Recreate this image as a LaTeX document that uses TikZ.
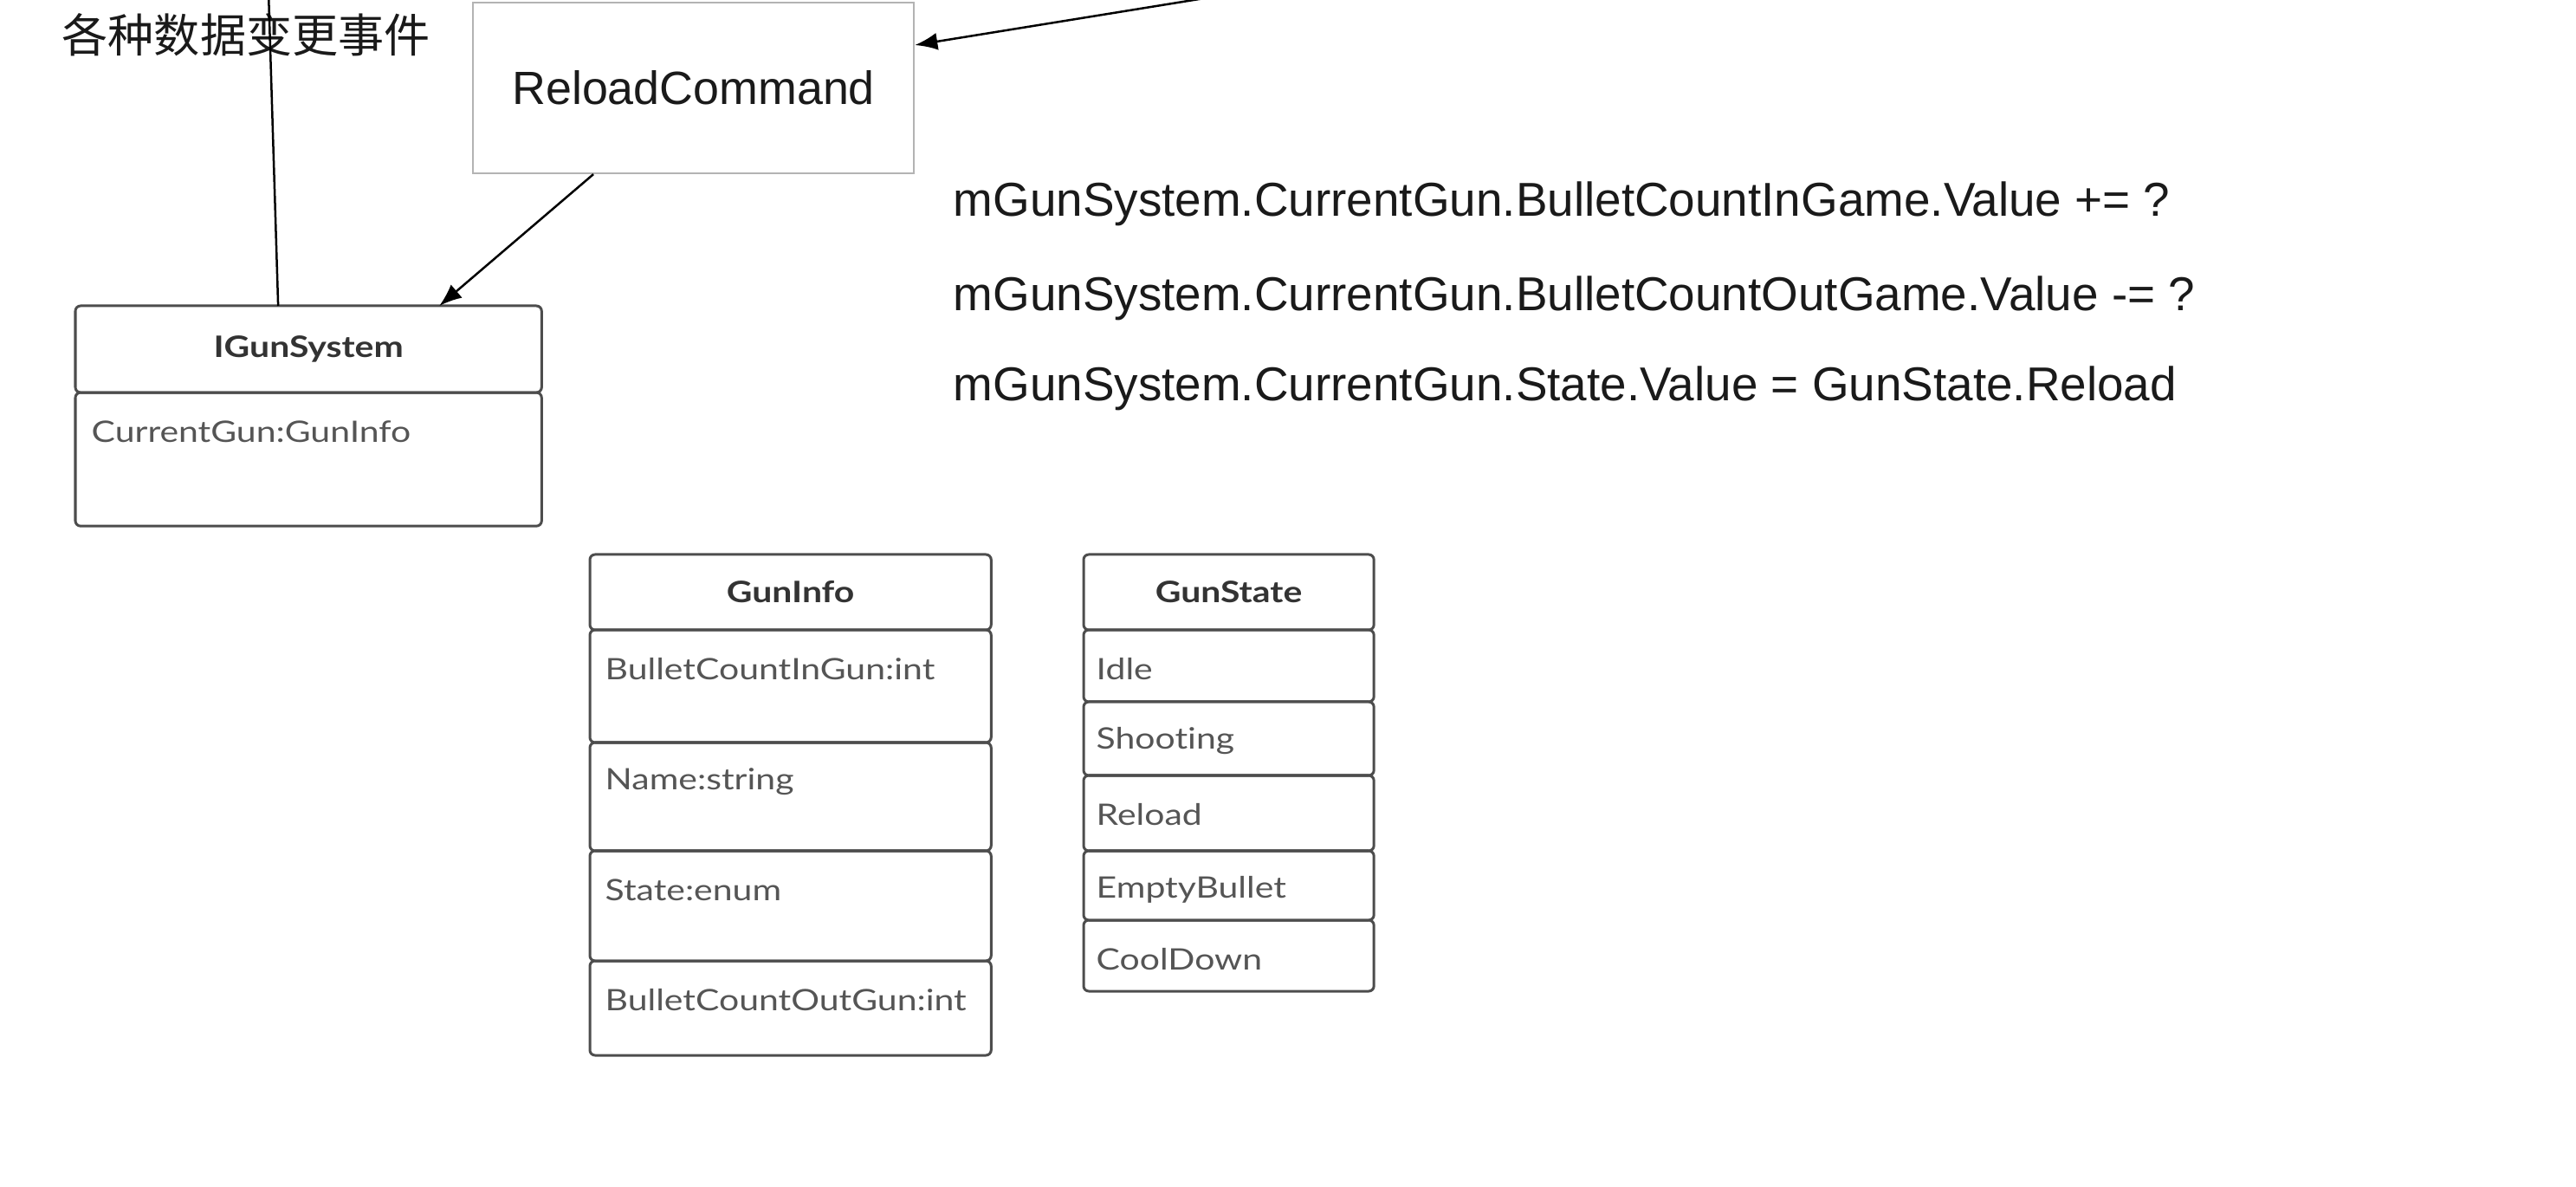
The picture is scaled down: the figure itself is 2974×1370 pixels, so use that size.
\documentclass[tikz,border=0pt]{standalone}
\usepackage{fontspec}
\setmainfont{Liberation Sans}
\newfontfamily\umlfont{Lato}[FakeStretch = 1.2, Ligatures = NoCommon]
\newfontfamily\cjkfont{Noto Sans CJK SC}
\usetikzlibrary{positioning,arrows.meta}
\definecolor{uml_frame}{HTML}{4D4D4D}
\definecolor{uml_text}{HTML}{555555}
\definecolor{uml_title}{HTML}{333333}
\definecolor{cmd_frame}{HTML}{B3B3B3}
\definecolor{code_text}{HTML}{1A1A1A}

\begin{document}
\begin{tikzpicture}[x={(.01cm,0)}, y={(0,-.01cm)}]
    \tikzstyle{compart} = [draw = uml_frame, line width = .03cm, rounded corners = .06cm, inner sep = 0, outer sep = 0, anchor = north west];
    \tikzstyle{attr} = [anchor = west, inner sep = 0, text = uml_text, font = \umlfont\fontsize{9.7}{12}\selectfont];
    \tikzstyle{title} = [text = uml_title, font = \umlfont\bfseries\fontsize{9.7}{12}\selectfont];
    \tikzstyle{code} = [anchor = west, inner sep = 0, text = code_text, font = \fontsize{15.6}{18}\selectfont];
    \tikzstyle{link} = [line width = .025cm, -{Latex[length = .26cm, width = .2cm]}];
    \useasboundingbox (0,0) rectangle (2974,1370);
    \fill[white] (0,0) rectangle (2974,1370);
    \node[anchor = west, inner sep = 0, text = code_text, font = \cjkfont\fontsize{15.1}{18}\selectfont] (events) at (71,40) {各种数据变更事件};
    \node[draw = cmd_frame, line width = .02cm, anchor = north west, minimum width = 5.09cm, minimum height = 1.97cm, text = code_text, font = \fontsize{15.3}{18}\selectfont] (reload) at (545,2) {ReloadCommand};
    \node[compart, title, minimum width = 5.38cm, minimum height = 1cm] (igun_head) at (87,353) {IGunSystem};
    \node[compart, minimum width = 5.38cm, minimum height = 1.54cm] (igun_body) at (igun_head.south west) {};
    \node[attr] (igun_attr) at (105,498) {CurrentGun:GunInfo};
    \node[compart, title, minimum width = 4.63cm, minimum height = .87cm] (info_head) at (681,640) {GunInfo};
    \foreach \l/\t/\b [count=\i] in {{BulletCountInGun:int}/727/857, {Name:string}/857/982, {State:enum}/982/1109, {BulletCountOutGun:int}/1109/1218}
    {
    \node[compart, minimum width = 4.63cm, minimum height = {(\b-\t)*.01cm}] (info_row_\i) at (681,\t) {};
    \node[attr] (info_attr_\i) at (698,\t+45) {\l};}
    \node[compart, title, minimum width = 3.35cm, minimum height = .87cm] (state_head) at (1251,640) {GunState};
    \foreach \l/\t/\b [count=\i] in {Idle/727/810, Shooting/810/895, Reload/895/982, EmptyBullet/982/1062, CoolDown/1062/1144}
    {
    \node[compart, minimum width = 3.35cm, minimum height = {(\b-\t)*.01cm}] (state_row_\i) at (1251,\t) {};
    \node[attr] (state_attr_\i) at (1265,\t+45) {\l};}
    \foreach \l/\y [count=\i] in {{mGunSystem.CurrentGun.BulletCountInGame.Value += ?}/235, {mGunSystem.CurrentGun.BulletCountOutGame.Value -= ?}/344, {mGunSystem.CurrentGun.State.Value = GunState.Reload}/448}
    {\node[code] (code_\i) at (1100,\y) {\l};}
    \coordinate (events_top) at (310,-10);
    \coordinate (cmd_src) at (1440,-10);
    \draw[line width = .025cm] (events_top) -- ([xshift = 2.34cm]igun_head.north west);
    \draw[link] (cmd_src) -- ([yshift = -.5cm]reload.north east);
    \draw[link] ([xshift = 1.4cm]reload.south west) -- ([xshift = 4.2cm]igun_head.north west);
\end{tikzpicture}
\end{document}
